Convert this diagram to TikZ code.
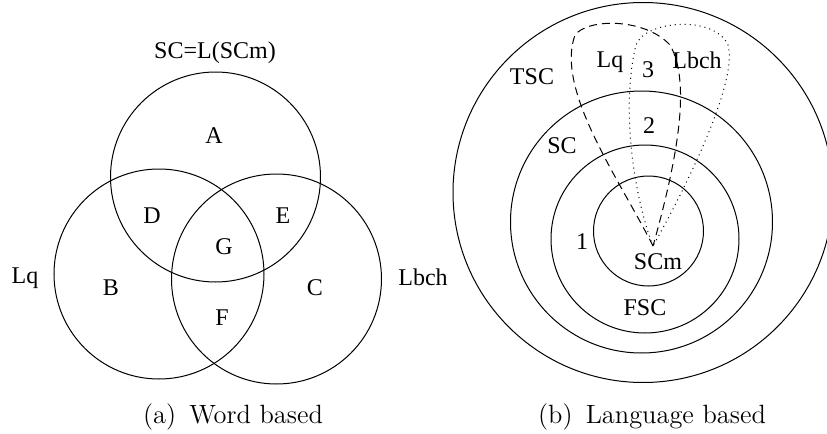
\documentclass[tikz,border=0pt]{standalone}
\usepackage{fontspec}
\newfontfamily\figfont{Liberation Serif}
\usepackage{tikz}

\tikzset{
  lbl/.style={font=\figfont\fontsize{12}{14}\selectfont, inner sep=0pt},
  subcap/.style={font=\fontsize{13.2}{16}\selectfont, inner sep=0pt, anchor=base},
  ring/.style={line width=0.5pt},
}

\begin{document}
\begin{tikzpicture}[x=0.5pt, y=-0.5pt]
    % unidades em pixels, y para baixo
    \useasboundingbox (0,0) rectangle (827,434);

    % (a) Diagrama de Venn
    \draw[ring] (215.5,177) circle (105);
    \draw[ring] (159,274) circle (105);
    \draw[ring] (276.5,279) circle (105);

    \node[lbl] (scl) at (215,53) {SC=L(SCm)};
    \node[lbl] (ra) at (214,136) {A};
    \node[lbl] (rd) at (152,216) {D};
    \node[lbl] (re) at (283,216) {E};
    \node[lbl] (rg) at (224,247) {G};
    \node[lbl] (lqa) at (25,278) {Lq};
    \node[lbl] (rb) at (111,288) {B};
    \node[lbl] (rc) at (315,288) {C};
    \node[lbl] (rf) at (222,318) {F};
    \node[lbl] (lbcha) at (423,277) {Lbch};
    \node[subcap] (capa) at (233,423) {(a)\enskip Word based};

    % (b) Circulos de linguagens
    \draw[ring] (643,192.5) circle (190);
    \draw[ring] (641.5,222) circle (131);
    \draw[ring] (645,239) circle (94);
    \draw[ring] (648.5,231) circle (55);

    % Gotas Lq (tracejada) e Lbch (pontilhada)
    \coordinate (tip) at (653,246);
    \draw[ring, dash pattern=on 4pt off 2.5pt] (tip)
        .. controls (620,180) and (555,90) .. (575,35)
        .. controls (588,18) and (645,18) .. (670,45)
        .. controls (690,80) and (680,150) .. (tip);
    \draw[ring, dotted] (tip)
        .. controls (635,200) and (620,110) .. (636,45)
        .. controls (645,20) and (715,15) .. (728,45)
        .. controls (738,80) and (690,180) .. (tip);

    \node[lbl] (tsc) at (532,77) {TSC};
    \node[lbl] (lqb) at (610,62) {Lq};
    \node[lbl] (n3) at (648,70) {3};
    \node[lbl] (lbchb) at (697,60) {Lbch};
    \node[lbl] (n2) at (649,126) {2};
    \node[lbl] (sc) at (562,146) {SC};
    \node[lbl] (n1) at (582,242) {1};
    \node[lbl] (scm) at (658,262) {SCm};
    \node[lbl] (fsc) at (645,308) {FSC};
    \node[subcap] (capb) at (652,423) {(b)\enskip Language based};
\end{tikzpicture}
\end{document}
